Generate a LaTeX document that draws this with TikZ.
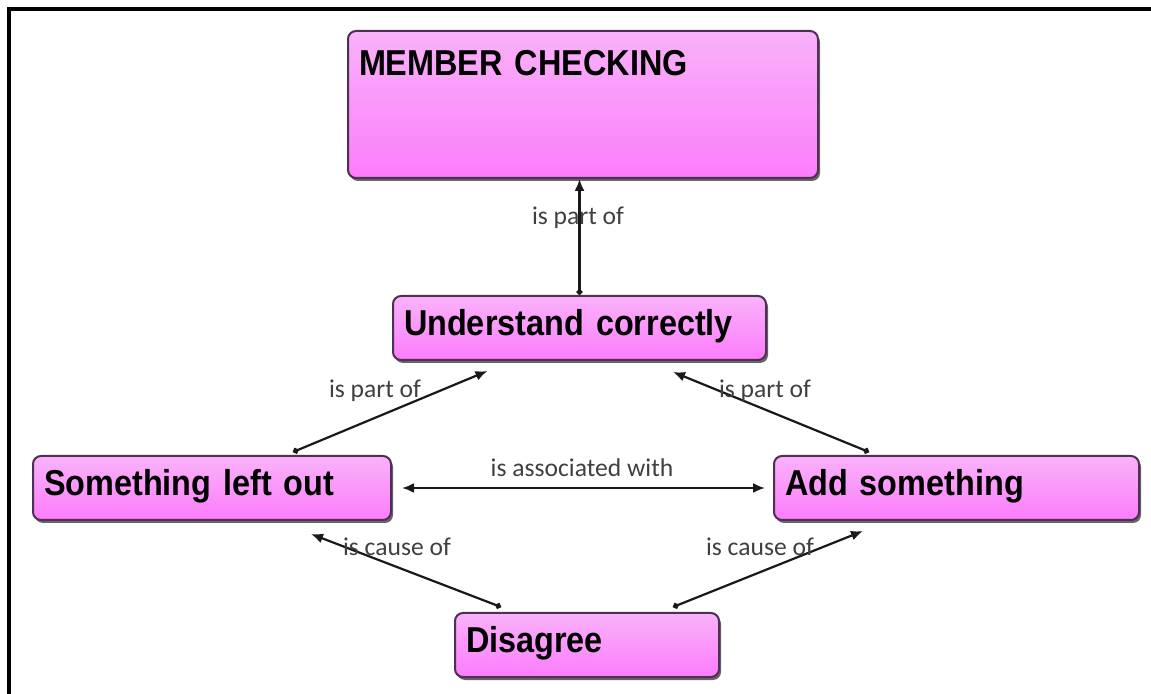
\documentclass[tikz,border=0pt]{standalone}
\usepackage{fontspec}
\setmainfont{Liberation Sans}
\newfontfamily\conceptfont[FakeStretch=0.9]{Liberation Sans}
\newfontfamily\linkfont{Carlito}
\usetikzlibrary{arrows.meta,shadows,calc}

\definecolor{pinktop}{RGB}{249,178,249}
\definecolor{pinkbot}{RGB}{252,124,252}
\definecolor{conceptline}{RGB}{78,48,82}

\begin{document}
\begin{tikzpicture}[x=0.5pt,y=-0.5pt]
  % Define style for concept and link label
  \tikzstyle{concept} = [draw=conceptline, line width=1pt, rectangle, rounded corners=4pt,
    top color=pinktop, bottom color=pinkbot, anchor=north west, align=left,
    inner xsep=5.5pt, inner ysep=0pt, text height=20pt, text depth=12pt,
    font=\conceptfont\bfseries\fontsize{18}{20}\selectfont,
    drop shadow={shadow xshift=1pt, shadow yshift=-1.5pt, fill=black, opacity=.6}]
  \tikzstyle{lbl} = [text=black!75, font=\linkfont\fontsize{12.8}{14}\selectfont, inner sep=0pt]
  \tikzstyle{link} = [line width=1.1pt, black!90, {Circle[length=3pt]}-{Latex[length=6pt,width=5pt]}]
  \tikzstyle{both} = [line width=1.1pt, black!90, {Latex[length=6pt,width=5pt]}-{Latex[length=6pt,width=5pt]}]

  \useasboundingbox (0,0) rectangle (1151,694);
  \fill[white] (0,0) rectangle (1151,694);
  \draw[line width=2pt] (9,694) -- (9,9) -- (1151,9);

  % Draw the concepts
  \node(mc)[concept, text width=224pt, text height=22.5pt, text depth=51pt] at (347,30) {MEMBER CHECKING};
  \node(uc)[concept, text width=175.5pt] at (392,295) {Understand correctly};
  \node(slo)[concept, text width=168pt] at (32,455) {Something left out};
  \node(as)[concept, text width=171.5pt] at (773,455) {Add something};
  \node(dis)[concept, text width=121pt] at (454,612) {Disagree};

  % Draw the links
  \draw[link] (uc.north) -- (uc.north |- mc.south);
  \draw[link] ([xshift=40.5pt,yshift=1.5pt]slo.north) -- ([xshift=-46pt,yshift=-5pt]uc.south);
  \draw[link] ([xshift=-43.75pt,yshift=1.5pt]as.north) -- ([xshift=46.75pt,yshift=-5.5pt]uc.south);
  \draw[both, shorten <=5pt, shorten >=4pt] (slo.east) -- (slo.east -| as.west);
  \draw[link] ([xshift=-43pt,yshift=2.5pt]dis.north) -- ([xshift=49.5pt,yshift=-6.5pt]slo.south);
  \draw[link] ([xshift=43pt,yshift=2.5pt]dis.north) -- ([xshift=-46.75pt,yshift=-5pt]as.south);

  \node(l1)[lbl] at (578,218) {is part of};
  \node(l2)[lbl] at (375,391) {is part of};
  \node(l3)[lbl] at (765,391) {is part of};
  \node(l4)[lbl] at (582,468) {is associated with};
  \node(l5)[lbl] at (397,547) {is cause of};
  \node(l6)[lbl] at (760,547) {is cause of};
\end{tikzpicture}
\end{document}
